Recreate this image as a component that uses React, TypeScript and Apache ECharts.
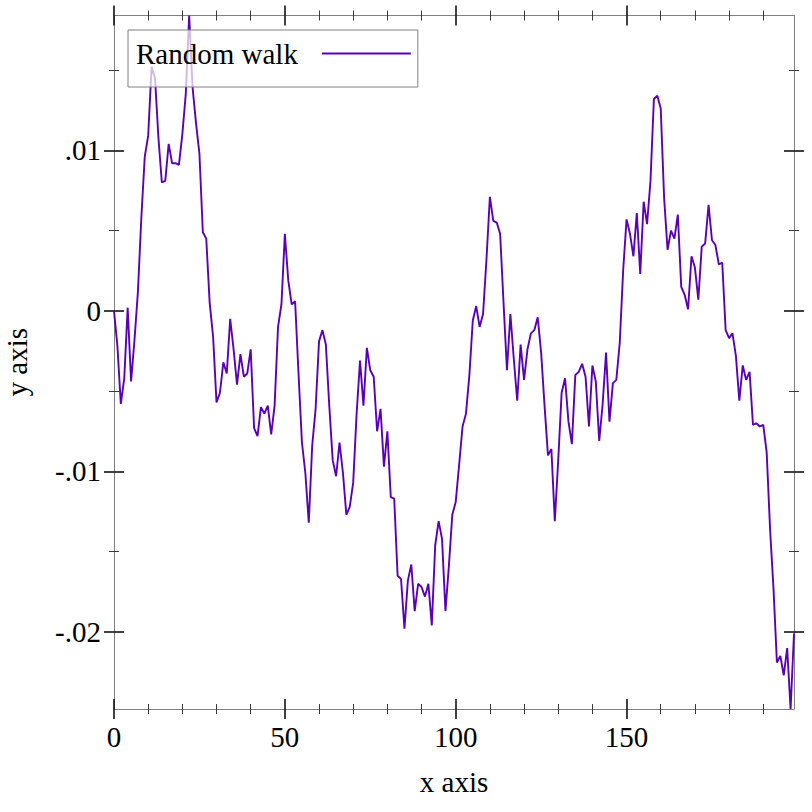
import React, { useEffect, useRef } from "react";
import * as echarts from "echarts";

// Random walk samples, one per step (x = 0 … 199)
const walkValues: number[] = [
  0, -0.0022, -0.0058, -0.0042, 0.0002, -0.0044, -0.0018, 0.0012, 0.0058, 0.0096,
  0.0109, 0.0152, 0.0145, 0.0108, 0.008, 0.0081, 0.0104, 0.0092, 0.0092, 0.0091,
  0.011, 0.0135, 0.0184, 0.0139, 0.0117, 0.0098, 0.0049, 0.0045, 0.0005, -0.0016,
  -0.0057, -0.0051, -0.0032, -0.0039, -0.0005, -0.0024, -0.0046, -0.0027, -0.0041, -0.0039,
  -0.0024, -0.0073, -0.0078, -0.006, -0.0064, -0.0059, -0.0077, -0.0059, -0.001, 0.0004,
  0.0048, 0.0019, 0.0004, 0.0006, -0.0039, -0.0082, -0.0101, -0.0132, -0.0084, -0.0061,
  -0.0019, -0.0012, -0.0021, -0.0059, -0.0093, -0.0103, -0.0082, -0.0101, -0.0127, -0.0122,
  -0.0107, -0.0064, -0.0031, -0.0059, -0.0023, -0.0037, -0.0041, -0.0075, -0.0061, -0.0097,
  -0.0075, -0.0116, -0.0117, -0.0165, -0.0167, -0.0198, -0.0168, -0.0158, -0.0187, -0.017,
  -0.0172, -0.0178, -0.017, -0.0196, -0.0146, -0.0131, -0.0142, -0.0187, -0.0159, -0.0127,
  -0.0119, -0.0096, -0.0072, -0.0064, -0.004, -0.0006, 0.0003, -0.001, -0.0002, 0.0032,
  0.0071, 0.0056, 0.0055, 0.0048, 0.0005, -0.0037, -0.0002, -0.003, -0.0056, -0.0021,
  -0.0043, -0.0024, -0.0014, -0.0012, -0.0004, -0.0026, -0.0059, -0.009, -0.0086, -0.0131,
  -0.0093, -0.0051, -0.0042, -0.0069, -0.0083, -0.004, -0.0038, -0.0033, -0.0041, -0.0072,
  -0.0034, -0.0044, -0.0081, -0.0058, -0.0026, -0.0069, -0.0045, -0.0043, -0.002, 0.0025,
  0.0057, 0.0048, 0.0034, 0.0061, 0.0023, 0.0068, 0.0054, 0.0081, 0.0132, 0.0134,
  0.0126, 0.007, 0.0038, 0.005, 0.0045, 0.006, 0.0015, 0.001, 0.0001, 0.0034,
  0.0027, 0.0007, 0.004, 0.0042, 0.0066, 0.0044, 0.0041, 0.0029, 0.003, -0.0012,
  -0.0017, -0.0014, -0.0028, -0.0056, -0.0034, -0.0043, -0.0038, -0.0071, -0.007, -0.0072,
  -0.0071, -0.0088, -0.0136, -0.0173, -0.0219, -0.0215, -0.0227, -0.021, -0.0248, -0.0201,
];

const seriesName = "Random walk";
const xMajorTicks = [0, 50, 100, 150];
const xMinorTicks = [10, 20, 30, 40, 60, 70, 80, 90, 110, 120, 130, 140, 160, 170, 180, 190];
const yMajorTicks = [-0.02, -0.01, 0, 0.01];
const yMinorTicks = [-0.015, -0.005, 0.005, 0.015];

const FONT = "'Liberation Serif', 'Times New Roman', serif";
const LINE_COLOR = "#5a00b8";
const FRAME_COLOR = "#808080";
const MAJOR_COLOR = "#111111";
const MINOR_COLOR = "#3a3a3a";

const fmtY = (v: number) => {
  if (Math.abs(v) < 1e-12) return "0";
  return v.toFixed(2).replace("0.", ".");
};

export default function App() {
  const ref = useRef<HTMLDivElement | null>(null);

  useEffect(() => {
    document.body.style.margin = "0";
    if (!ref.current) return;
    const chart = echarts.init(ref.current, null, { renderer: "svg" });

    const xMin = 0;
    const xMax = walkValues.length - 1;
    const yMin = Math.min(...walkValues);
    const yMax = Math.max(...walkValues);

    const hidden = { show: false };
    const baseX = (position: "top" | "bottom") => ({
      type: "value" as const,
      min: xMin,
      max: xMax,
      position,
      splitLine: hidden,
    });
    const baseY = (position: "left" | "right") => ({
      type: "value" as const,
      min: yMin,
      max: yMax,
      position,
      splitLine: hidden,
    });

    // one axis draws the frame line, two offset axes draw ticks that cross it
    const tickAxes = (make: any, position: string, major: number[], minor: number[]) => [
      {
        ...make(position),
        offset: -10,
        axisLine: { show: false, onZero: false },
        axisLabel: { show: false },
        axisTick: {
          show: true,
          inside: false,
          length: 20,
          customValues: major,
          lineStyle: { color: MAJOR_COLOR, width: 1.6 },
        },
      },
      {
        ...make(position),
        offset: -5,
        axisLine: { show: false, onZero: false },
        axisLabel: { show: false },
        axisTick: {
          show: true,
          inside: false,
          length: 10,
          customValues: minor,
          lineStyle: { color: MINOR_COLOR, width: 1 },
        },
      },
    ];

    const option: any = {
      animation: false,
      backgroundColor: "#ffffff",
      grid: {
        left: 114,
        right: 18,
        top: 15.5,
        bottom: 103,
        containLabel: false,
        outerBoundsMode: "none",
      },
      legend: {
        data: [seriesName],
        left: 128,
        top: 30,
        orient: "horizontal",
        align: "right",
        padding: [9, 6, 19, 8],
        itemWidth: 89,
        itemHeight: 14,
        backgroundColor: "rgba(255,255,255,0.72)",
        borderColor: FRAME_COLOR,
        borderWidth: 1,
        borderRadius: 0,
        // only the line sample, no marker on it
        itemStyle: { opacity: 0, borderWidth: 0 },
        lineStyle: { color: LINE_COLOR, width: 1.9 },
        textStyle: { fontFamily: FONT, fontSize: 29, color: "#000", padding: [0, 19, 0, 0] },
      },
      xAxis: [
        {
          ...baseX("bottom"),
          name: "x axis",
          nameLocation: "middle",
          nameGap: 58,
          nameTextStyle: { fontFamily: FONT, fontSize: 29, color: "#000" },
          axisLine: { show: true, onZero: false, lineStyle: { color: FRAME_COLOR, width: 1 } },
          axisTick: { show: false },
          axisLabel: {
            show: true,
            margin: 13,
            customValues: xMajorTicks,
            fontFamily: FONT,
            fontSize: 29,
            color: "#000",
            formatter: (v: number) => String(v),
          },
        },
        ...tickAxes(baseX, "bottom", xMajorTicks, xMinorTicks),
        {
          ...baseX("top"),
          axisLine: { show: true, onZero: false, lineStyle: { color: FRAME_COLOR, width: 1 } },
          axisTick: { show: false },
          axisLabel: { show: false },
        },
        ...tickAxes(baseX, "top", xMajorTicks, xMinorTicks),
      ],
      yAxis: [
        {
          ...baseY("left"),
          name: "y axis",
          nameLocation: "middle",
          nameGap: 83,
          nameTextStyle: { fontFamily: FONT, fontSize: 29, color: "#000" },
          axisLine: { show: true, onZero: false, lineStyle: { color: FRAME_COLOR, width: 1 } },
          axisTick: { show: false },
          axisLabel: {
            show: true,
            margin: 13,
            customValues: yMajorTicks,
            fontFamily: FONT,
            fontSize: 29,
            color: "#000",
            formatter: fmtY,
          },
        },
        ...tickAxes(baseY, "left", yMajorTicks, yMinorTicks),
        {
          ...baseY("right"),
          axisLine: { show: true, onZero: false, lineStyle: { color: FRAME_COLOR, width: 1 } },
          axisTick: { show: false },
          axisLabel: { show: false },
        },
        ...tickAxes(baseY, "right", yMajorTicks, yMinorTicks),
      ],
      series: [
        {
          name: seriesName,
          type: "line",
          xAxisIndex: 0,
          yAxisIndex: 0,
          data: walkValues.map((v, i) => [i, v]),
          symbol: "none",
          showSymbol: false,
          clip: true,
          lineStyle: { color: LINE_COLOR, width: 1.9 },
          itemStyle: { color: LINE_COLOR },
        },
      ],
    };

    chart.setOption(option);
    return () => chart.dispose();
  }, []);

  return <div ref={ref} style={{ width: 812, height: 812 }} />;
}
